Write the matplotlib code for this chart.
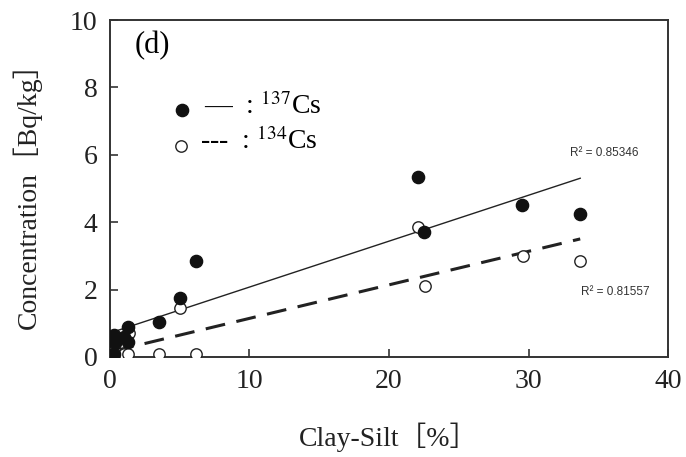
import numpy as np
import matplotlib
matplotlib.use("Agg")
import matplotlib.pyplot as plt

plt.rcParams['font.family'] = ['Liberation Serif', 'Noto Sans CJK JP']
plt.rcParams['mathtext.fontset'] = 'stix'

# Clay-Silt content [%] vs. activity concentration [Bq/kg]
cs137_x = [0.3, 0.4, 0.3, 1.0, 1.3, 1.3, 3.5, 5.0, 6.2, 22.1, 22.5, 29.5, 33.7]
cs137_y = [0.65, 0.4, 0.1, 0.6, 0.9, 0.45, 1.05, 1.75, 2.85, 5.35, 3.7, 4.5, 4.25]
cs134_x = [0.3, 0.6, 1.0, 1.3, 1.4, 3.5, 5.0, 6.2, 22.1, 22.6, 29.6, 33.7]
cs134_y = [0.08, 0.08, 0.08, 0.08, 0.72, 0.08, 1.45, 0.08, 3.85, 2.1, 3.0, 2.85]
r2_labels = ['R² = 0.85346', 'R² = 0.81557']

fig = plt.figure(figsize=(6.86, 4.57), dpi=100)
ax = fig.add_axes([0.160, 0.219, 0.814, 0.737])

# linear trend lines over the data range
for xs, ys, style in [(cs137_x, cs137_y, 'solid'), (cs134_x, cs134_y, 'dash')]:
    k, b = np.polyfit(xs, ys, 1)
    xx = np.array([min(xs), max(xs)])
    if style == 'solid':
        ax.plot(xx, k * xx + b, color='#222222', lw=1.0, zorder=2)
    else:
        ln, = ax.plot(xx, k * xx + b, color='#222222', lw=2.2, zorder=2)
        ln.set_dashes([6.5, 3.8])

ax.plot(cs134_x, cs134_y, 'o', ms=8.2, mfc='white', mec='#222222', mew=1.0, zorder=3)
ax.plot(cs137_x, cs137_y, 'o', ms=8.8, mfc='#111111', mec='#111111', zorder=4)

ax.set_xlim(0, 40)
ax.set_ylim(0, 10)
ax.set_xticks([0, 10, 20, 30, 40])
ax.set_yticks([0, 2, 4, 6, 8, 10])
ax.tick_params(direction='in', length=6, width=1.2, labelsize=20, pad=9,
               color='#333333', labelcolor='#222222')
for sp in ax.spines.values():
    sp.set_linewidth(1.4)
    sp.set_color('#333333')

ax.set_xlabel('Clay-Silt［%］', fontsize=20, labelpad=20, color='#222222')
ax.set_ylabel('Concentration［Bq/kg］', fontsize=20, labelpad=20, color='#222222')

ax.text(0.045, 0.925, '(d)', transform=ax.transAxes, fontsize=22, va='center', ha='left')

# legend rows: marker, line sample, isotope
ax.plot([0.13], [0.733], 'o', transform=ax.transAxes, ms=8.8, mfc='#111111', mec='#111111', clip_on=False)
ax.plot([0.127], [0.627], 'o', transform=ax.transAxes, ms=8.2, mfc='white', mec='#222222', mew=1.0, clip_on=False)
ax.text(0.168, 0.745, '—  : $^{137}$Cs', transform=ax.transAxes, fontsize=20, va='center', ha='left')
ax.text(0.162, 0.640, '---  : $^{134}$Cs', transform=ax.transAxes, fontsize=20, va='center', ha='left')

ax.text(35.4, 6.05, r2_labels[0], fontsize=8.5, color='#333333',
        family='Liberation Sans', ha='center', va='center')
ax.text(36.2, 1.93, r2_labels[1], fontsize=8.5, color='#333333',
        family='Liberation Sans', ha='center', va='center')

fig.savefig('out.png', dpi=100)
